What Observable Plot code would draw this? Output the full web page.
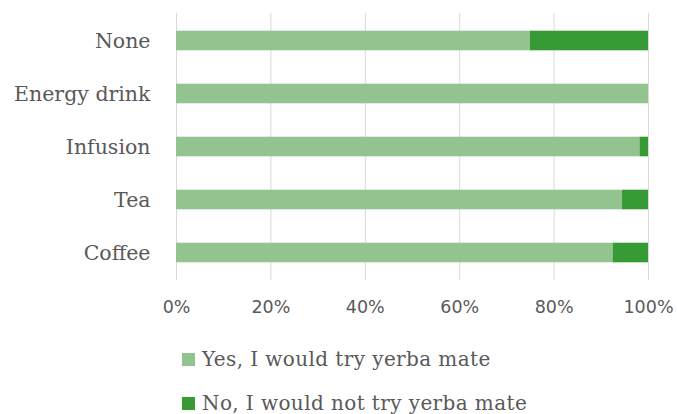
<!DOCTYPE html>
<html>
<head>
<meta charset="utf-8">
<script src="https://cdn.jsdelivr.net/npm/d3@7"></script>
<script src="https://cdn.jsdelivr.net/npm/@observablehq/plot@0.6"></script>
<style>
  body { margin: 0; background: #fff; }
  #chart { width: 677px; }
  #chart svg { display: block; }
  #legend { font-family: "DejaVu Serif", serif; font-size: 20px; letter-spacing: 0.4px; color: #595959; padding-top: 12px; }
  #legend .item { height: 44px; display: flex; align-items: center; padding-left: 182px; }
  #legend .sw { width: 13px; height: 13px; margin-right: 7px; flex: none; }
</style>
</head>
<body>
<div id="chart"></div>
<div id="legend"></div>
<script>
const categories = ["None", "Energy drink", "Infusion", "Tea", "Coffee"];
const yesValues = [75, 100, 98.2, 94.5, 92.5];
const noValues = [25, 0, 1.8, 5.5, 7.5];
const seriesNames = ["Yes, I would try yerba mate", "No, I would not try yerba mate"];
const seriesColors = ["#93c48f", "#379b35"];
const xTicks = [0, 20, 40, 60, 80, 100];

const data = [];
categories.forEach((c, i) => {
  data.push({category: c, series: seriesNames[0], value: yesValues[i]});
  data.push({category: c, series: seriesNames[1], value: noValues[i]});
});

const plot = Plot.plot({
  width: 677,
  height: 325,
  marginTop: 13,
  marginBottom: 45,
  marginLeft: 176,
  marginRight: 29,
  x: {domain: [0, 100], ticks: xTicks, tickFormat: d => d + "%"},
  y: {domain: categories, padding: 0},
  color: {domain: seriesNames, range: seriesColors},
  style: {background: "#fff"},
  marks: [
    Plot.ruleX(xTicks, {stroke: "#d9d9d9", strokeWidth: 1}),
    Plot.barX(data, Plot.stackX({
      x: "value", y: "category", fill: "series",
      order: seriesNames, insetTop: 16.7, insetBottom: 16.7
    })),
    Plot.axisX({ticks: xTicks, tickFormat: d => d + "%", tickSize: 0, tickPadding: 20,
      fontSize: 17.5, fill: "#595959", fontFamily: "DejaVu Sans, sans-serif", label: null}),
    Plot.axisY({tickSize: 0, tickPadding: 26, fontSize: 20.5, fill: "#595959",
      fontFamily: "DejaVu Serif, serif", label: null})
  ]
});
document.getElementById("chart").appendChild(plot);

const legend = document.getElementById("legend");
seriesNames.forEach((name, i) => {
  const item = document.createElement("div");
  item.className = "item";
  const sw = document.createElement("span");
  sw.className = "sw";
  sw.style.background = seriesColors[i];
  item.appendChild(sw);
  const t = document.createElement("span");
  t.textContent = name;
  item.appendChild(t);
  legend.appendChild(item);
});
</script>
</body>
</html>
